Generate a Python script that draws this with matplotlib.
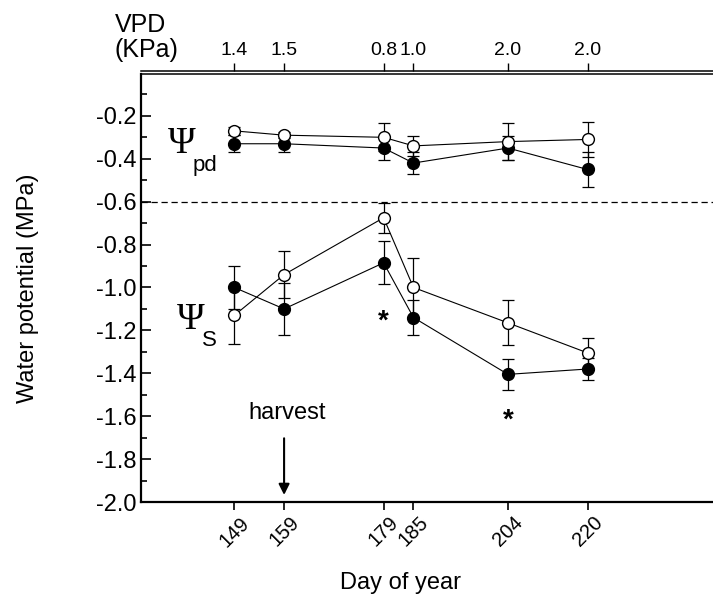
import matplotlib.pyplot as plt
from matplotlib.ticker import MultipleLocator

plt.rcParams['font.family'] = ['Liberation Sans', 'DejaVu Sans']

days = [149, 159, 179, 185, 204, 220]
vpd_labels = ['1.4', '1.5', '0.8', '1.0', '2.0', '2.0']

# predawn water potential
pd_open = [-0.27, -0.29, -0.30, -0.34, -0.32, -0.31]
pd_open_err = [0.02, 0.015, 0.065, 0.045, 0.085, 0.08]
pd_fill = [-0.33, -0.33, -0.35, -0.42, -0.35, -0.45]
pd_fill_err = [0.04, 0.04, 0.058, 0.05, 0.055, 0.08]

# stem water potential
s_open = [-1.13, -0.94, -0.675, -1.00, -1.165, -1.305]
s_open_err = [0.133, 0.11, 0.07, 0.137, 0.105, 0.07]
s_fill = [-1.00, -1.10, -0.885, -1.14, -1.405, -1.38]
s_fill_err = [0.10, 0.12, 0.10, 0.08, 0.073, 0.05]

fig = plt.figure(figsize=(7.13, 5.96), dpi=100)
ax = fig.add_axes([0.1978, 0.1577, 0.8022, 0.7181])

kw = dict(color='black', lw=0.8, capsize=4, elinewidth=0.9, capthick=0.9, ms=8.5)
for y, e in [(pd_fill, pd_fill_err), (s_fill, s_fill_err)]:
    ax.errorbar(days, y, yerr=e, fmt='-o', mfc='black', mec='black', **kw)
for y, e in [(pd_open, pd_open_err), (s_open, s_open_err)]:
    ax.errorbar(days, y, yerr=e, fmt='-o', mfc='white', mec='black', **kw)

ax.axhline(-0.6, color='black', lw=0.9, ls=(0, (5, 3)))

ax.set_xlim(130.25, 245.2)
ax.set_ylim(-2.0, -0.005)
ax.yaxis.set_minor_locator(MultipleLocator(0.1))
yt = [-2.0, -1.8, -1.6, -1.4, -1.2, -1.0, -0.8, -0.6, -0.4, -0.2]
ax.set_yticks(yt)
ax.set_yticklabels(['%.1f' % v for v in yt])
ax.tick_params(axis='y', which='both', direction='in', labelsize=17, width=1.2, pad=3)
ax.tick_params(axis='y', which='major', length=7)
ax.tick_params(axis='y', which='minor', length=4.5)

ax.set_xticks(days)
ax.set_xticklabels([str(d) for d in days], rotation=45, fontsize=14.5)
ax.tick_params(axis='x', direction='out', length=6, width=1.2, pad=2)

ax.spines['right'].set_visible(False)
for s in ['left', 'bottom']:
    ax.spines[s].set_linewidth(1.6)
ax.spines['top'].set_linewidth(1.1)

ax.set_ylabel('Water potential (MPa)', fontsize=17)
ax.yaxis.set_label_coords(-0.198, 0.5)
ax.yaxis.label.set_va('center')
ax.set_xlabel('Day of year', fontsize=17)
ax.xaxis.set_label_coords(0.454, -0.164)

top = ax.twiny()
top.spines['top'].set_position(('outward', 2))
top.spines['top'].set_linewidth(1.1)
for s in ['left', 'right', 'bottom']:
    top.spines[s].set_visible(False)
top.set_xlim(ax.get_xlim())
top.set_xticks(days)
top.set_xticklabels(vpd_labels, fontsize=14)
top.tick_params(axis='x', direction='out', length=6, width=1.0, pad=3, labelsize=14)
fig.text(0.161, 0.978, 'VPD\n(KPa)', fontsize=18, ha='left', va='top', linespacing=1.05)

ax.text(135.6, -0.33, 'Ψ', family='Liberation Serif', fontsize=27, va='center', ha='left')
ax.text(140.6, -0.43, 'pd', fontsize=16, va='center', ha='left')
ax.text(137.4, -1.15, 'Ψ', family='Liberation Serif', fontsize=27, va='center', ha='left')
ax.text(142.5, -1.245, 'S', fontsize=16, va='center', ha='left')

ax.text(179, -1.16, '*', fontsize=20, ha='center', va='center', fontweight='bold')
ax.text(204, -1.62, '*', fontsize=20, ha='center', va='center', fontweight='bold')

ax.text(159.6, -1.585, 'harvest', fontsize=17, ha='center', va='center')
ax.annotate('', xy=(159, -1.98), xytext=(159, -1.69),
            arrowprops=dict(arrowstyle='-|>', color='black', lw=1.5, mutation_scale=16))

fig.savefig('out.png', dpi=100)
